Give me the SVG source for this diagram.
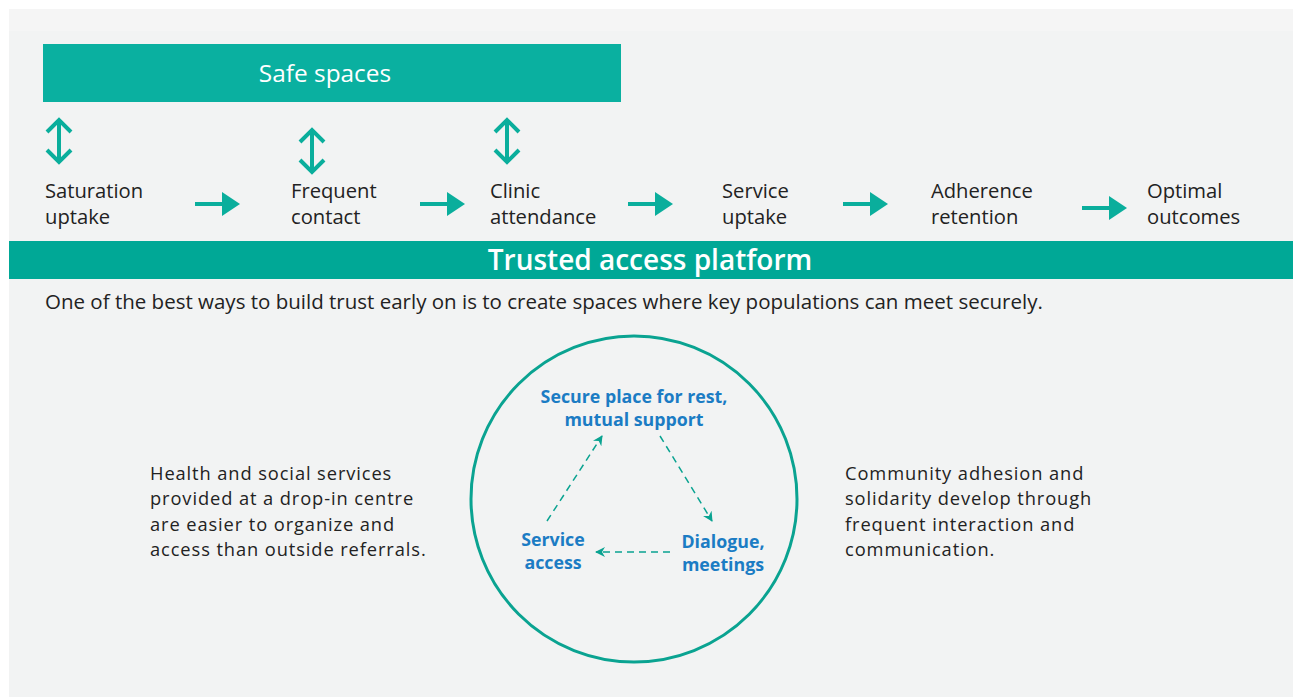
<svg xmlns="http://www.w3.org/2000/svg" width="1293" height="697" viewBox="0 0 1293 697">
<style>
.lbl{font-family:"Open Sans","Liberation Sans",sans-serif;font-size:20.2px;fill:#222}
.intro{font-family:"Open Sans","Liberation Sans",sans-serif;font-size:20.5px;fill:#222}
.note{font-family:"Open Sans","Liberation Sans",sans-serif;font-size:18.3px;letter-spacing:0.9px;fill:#222}
.blue{font-family:"Open Sans","Liberation Sans",sans-serif;font-size:17.8px;font-weight:bold;fill:#1b7cc4;text-anchor:middle}
.arr{stroke:#0aae9c;stroke-width:4;fill:none}
.dash{stroke:#0aa391;stroke-width:1.5;stroke-dasharray:7,5;fill:none}
</style>
<defs>
<marker id="ah" viewBox="0 0 10 10" refX="9" refY="5" markerWidth="10" markerHeight="10" markerUnits="userSpaceOnUse" orient="auto">
<path d="M0,0 L10,5 L0,10 L3,5 Z" fill="#0aa391"/>
</marker>
</defs>
<rect x="0" y="0" width="1293" height="697" fill="#ffffff"/>
<rect x="9" y="9" width="1284" height="688" fill="#f2f3f3"/>
<rect x="9" y="9" width="1284" height="22" fill="#f5f5f5"/>

<g id="safe-spaces">
<rect x="43" y="44" width="578" height="58" fill="#0ab0a0"/>
<text x="325" y="82" font-family="'Open Sans','Liberation Sans',sans-serif" font-size="24.4" fill="#fff" text-anchor="middle">Safe spaces</text>
</g>

<g id="trusted-platform">
<rect x="9" y="241" width="1284" height="38" fill="#00a896"/>
<text x="650" y="270" font-family="'Open Sans','Liberation Sans',sans-serif" font-size="28" font-weight="600" fill="#fff" text-anchor="middle">Trusted access platform</text>
</g>

<g id="connectors">
<g fill="none" stroke="#0aae9c" stroke-width="4">
<path d="M47,132 L59,120 L71,132 M59,120 L59,162 M47,150 L59,162 L71,150"/>
<path d="M300,142 L312,130 L324,142 M312,130 L312,172 M300,160 L312,172 L324,160"/>
<path d="M495,132 L507,120 L519,132 M507,120 L507,162 M495,150 L507,162 L519,150"/>
</g>
<g fill="#0aae9c">
<path d="M195,204 L225,204" class="arr"/><path d="M222,192 L240,204 L222,216 Z"/>
<path d="M420,204 L450,204" class="arr"/><path d="M447,192 L465,204 L447,216 Z"/>
<path d="M628,204 L658,204" class="arr"/><path d="M655,192 L673,204 L655,216 Z"/>
<path d="M843,204 L873,204" class="arr"/><path d="M870,192 L888,204 L870,216 Z"/>
<path d="M1082,208 L1112,208" class="arr"/><path d="M1109,196 L1127,208 L1109,220 Z"/>
</g>
<path class="dash" d="M547,521 L602,436" marker-end="url(#ah)"/>
<path class="dash" d="M660,436 L712,521" marker-end="url(#ah)"/>
<path class="dash" d="M670,552 L596,552" marker-end="url(#ah)"/>
</g>

<g id="step-saturation"><text class="lbl" x="45" y="198">Saturation</text><text class="lbl" x="45" y="224">uptake</text></g>
<g id="step-frequent"><text class="lbl" x="291" y="198">Frequent</text><text class="lbl" x="291" y="224">contact</text></g>
<g id="step-clinic"><text class="lbl" x="490" y="198">Clinic</text><text class="lbl" x="490" y="224">attendance</text></g>
<g id="step-service"><text class="lbl" x="722" y="198">Service</text><text class="lbl" x="722" y="224">uptake</text></g>
<g id="step-adherence"><text class="lbl" x="931" y="198">Adherence</text><text class="lbl" x="931" y="224">retention</text></g>
<g id="step-optimal"><text class="lbl" x="1147" y="198">Optimal</text><text class="lbl" x="1147" y="224">outcomes</text></g>

<g id="intro"><text class="intro" x="45" y="309">One of the best ways to build trust early on is to create spaces where key populations can meet securely.</text></g>

<g id="circle">
<circle cx="634" cy="499" r="163" fill="none" stroke="#0aa391" stroke-width="3"/>
</g>
<g id="node-secure"><text class="blue" x="634" y="403">Secure place for rest,</text><text class="blue" x="634" y="426">mutual support</text></g>
<g id="node-service"><text class="blue" x="553" y="546">Service</text><text class="blue" x="553" y="569">access</text></g>
<g id="node-dialogue"><text class="blue" x="723" y="548">Dialogue,</text><text class="blue" x="723" y="571">meetings</text></g>

<g id="left-note">
<text class="note" x="150" y="480">Health and social services</text>
<text class="note" x="150" y="505">provided at a drop-in centre</text>
<text class="note" x="150" y="531">are easier to organize and</text>
<text class="note" x="150" y="556">access than outside referrals.</text>
</g>
<g id="right-note">
<text class="note" x="845" y="480">Community adhesion and</text>
<text class="note" x="845" y="505">solidarity develop through</text>
<text class="note" x="845" y="531">frequent interaction and</text>
<text class="note" x="845" y="556">communication.</text>
</g>
</svg>
